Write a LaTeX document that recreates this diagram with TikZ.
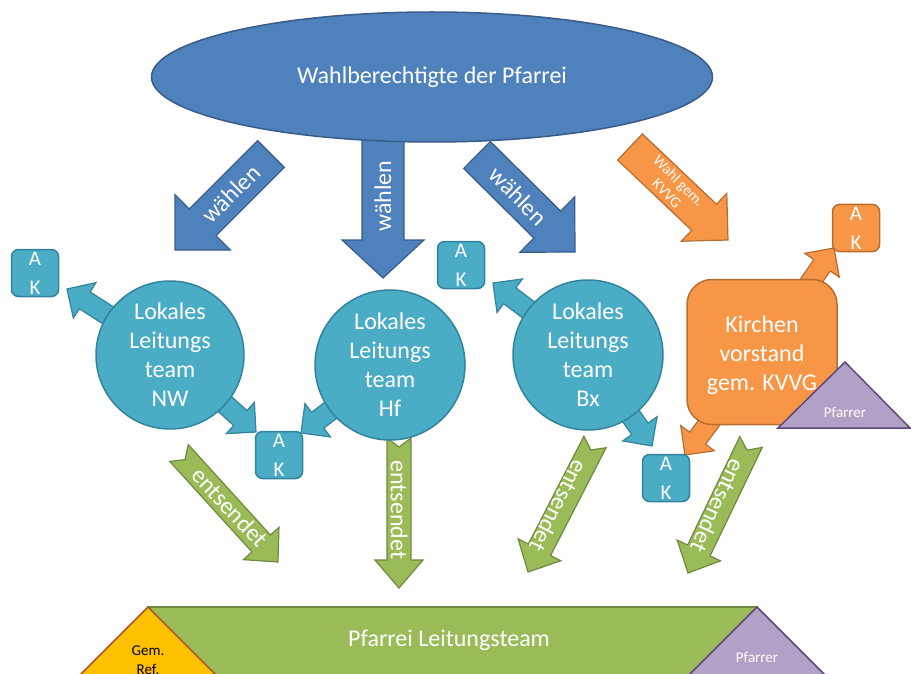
\documentclass[tikz,border=0pt]{standalone}
\usepackage{fontspec}
\setmainfont{Carlito}
\usetikzlibrary{calc,shapes.geometric}

\definecolor{cblue}{HTML}{4F81BD}
\definecolor{cblued}{HTML}{385D8A}
\definecolor{caqua}{HTML}{4BACC6}
\definecolor{caquad}{HTML}{31849B}
\definecolor{corange}{HTML}{F79646}
\definecolor{coranged}{HTML}{B66D31}
\definecolor{cgreen}{HTML}{9BBB59}
\definecolor{cgreend}{HTML}{71893F}
\definecolor{cpurple}{HTML}{B2A1C7}
\definecolor{cpurpled}{HTML}{5F497A}
\definecolor{cgold}{HTML}{FFC000}
\definecolor{cgoldd}{HTML}{A65A2B}

% #1 style, #2 tail, #3 tip, #4 body half width, #5 head half width, #6 head length, #7 notch depth
\newcommand{\blockarr}[7]{%
  \coordinate (hb) at ($(#3)!#6!(#2)$);
  \path[#1] ($(#2)!#4!90:(#3)$) -- ($(hb)!#4!90:(#3)$) -- ($(hb)!#5!90:(#3)$) -- (#3)
    -- ($(hb)!#5!-90:(#3)$) -- ($(hb)!#4!-90:(#3)$) -- ($(#2)!#4!-90:(#3)$)
    -- ($(#2)!#7!(#3)$) -- cycle;
}

\tikzset{
  bluearr/.style={fill=cblue, draw=cblued, line width=1.2pt, line join=miter},
  aquaarr/.style={fill=caqua, draw=caquad, line width=1.2pt, line join=miter},
  orarr/.style={fill=corange, draw=coranged, line width=1.2pt, line join=miter},
  grarr/.style={fill=cgreen, draw=cgreend, line width=1.2pt, line join=miter},
  big/.style={font=\fontsize{24}{29}\selectfont},
  lbl/.style={big, text=white, inner sep=0pt},
  team/.style={circle, fill=caqua, draw=caquad, line width=1.5pt, minimum size=150pt,
    inner sep=0pt, text=white, align=center, big},
  akbox/.style={rectangle, rounded corners=7pt, fill=caqua, draw=caquad, line width=1.5pt,
    minimum width=47pt, minimum height=47pt, inner sep=0pt, text=white, align=center,
    font=\fontsize{21}{29}\selectfont},
  purp/.style={fill=cpurple, draw=cpurpled, line width=1.5pt, line join=miter},
  goldtri/.style={fill=cgold, draw=cgoldd, line width=1.5pt, line join=miter},
  small/.style={font=\fontsize{15}{19}\selectfont, inner sep=0pt, align=center},
}

\begin{document}
\begin{tikzpicture}[x=1pt,y=-1pt]
\useasboundingbox (0,0) rectangle (911,674);
\clip (0,0) rectangle (911,674);

% ---- big arrows from the ellipse
\coordinate (a1t) at (271,154); \coordinate (a1h) at (175,250);
\blockarr{bluearr}{a1t}{a1h}{19pt}{39pt}{39pt}{0pt}
\coordinate (a2t) at (383,120); \coordinate (a2h) at (383,278);
\blockarr{bluearr}{a2t}{a2h}{21pt}{41pt}{38pt}{0pt}
\coordinate (a3t) at (477,155); \coordinate (a3h) at (575,252);
\blockarr{bluearr}{a3t}{a3h}{19pt}{39pt}{39pt}{0pt}
\coordinate (a4t) at (630,147); \coordinate (a4h) at (728,240);
\blockarr{orarr}{a4t}{a4h}{18pt}{33pt}{33pt}{0pt}

\node[ellipse, fill=cblue, draw=cblued, line width=1.5pt, minimum width=561pt,
  minimum height=130pt, inner sep=0pt, text=white, big] (wb) at (432,77)
  {Wahlberechtigte der Pfarrei};

\node[lbl, rotate=45] (t1) at (231,194) {wählen};
\node[lbl, rotate=90] (t2) at (383,196) {wählen};
\node[lbl, rotate=-45] (t3) at (518,196) {wählen};
\node[small, text=white, rotate=-45, font=\fontsize{15}{17}\selectfont] (t4) at (673,187) {Wahl gem.\\KVVG};

% ---- centres
\coordinate (nwc) at (170,355);
\coordinate (hfc) at (390,365);
\coordinate (bxc) at (588,355);
\coordinate (kvc) at (762,352);

% ---- green arrows
\coordinate (g1t) at (179,453); \coordinate (g1h) at (278,562);
\blockarr{grarr}{g1t}{g1h}{12.5pt}{24pt}{25pt}{9pt}
\coordinate (g2t) at (399,438); \coordinate (g2h) at (399,588);
\blockarr{grarr}{g2t}{g2h}{12pt}{24pt}{28pt}{9pt}
\coordinate (g3t) at (595,442); \coordinate (g3h) at (528,572);
\blockarr{grarr}{g3t}{g3h}{12.5pt}{24pt}{25pt}{9pt}
\coordinate (g4t) at (751,442); \coordinate (g4h) at (688,573);
\blockarr{grarr}{g4t}{g4h}{12.5pt}{24pt}{25pt}{9pt}

\node[lbl, rotate=-47] (e1) at (230,507) {entsendet};
\node[lbl, rotate=-90] (e2) at (399,510) {entsendet};
\node[lbl, rotate=-117] (e3) at (559,506) {entsendet};
\node[lbl, rotate=-115] (e4) at (718,506) {entsendet};

% ---- small arrows to the AK boxes
\coordinate (s1h) at (67,289);
\blockarr{aquaarr}{nwc}{s1h}{10pt}{21pt}{21pt}{0pt}
\coordinate (s2h) at (256,432);
\blockarr{aquaarr}{nwc}{s2h}{10pt}{21pt}{21pt}{0pt}
\coordinate (s3h) at (301,433);
\blockarr{aquaarr}{hfc}{s3h}{10pt}{21pt}{21pt}{0pt}
\coordinate (s4h) at (493,283);
\blockarr{aquaarr}{bxc}{s4h}{10pt}{21pt}{21pt}{0pt}
\coordinate (s5h) at (652,446);
\blockarr{aquaarr}{bxc}{s5h}{10pt}{21pt}{21pt}{0pt}
\coordinate (o1h) at (685,455);
\blockarr{orarr}{kvc}{o1h}{10pt}{21pt}{21pt}{0pt}
\coordinate (o2h) at (834,248);
\blockarr{orarr}{kvc}{o2h}{10pt}{21pt}{21pt}{0pt}

% ---- circles
\node[team, minimum size=148pt] (nw) at (nwc) {Lokales\\Leitungs\\team\\NW};
\node[team] (hf) at (hfc) {Lokales\\Leitungs\\team\\Hf};
\node[team] (bx) at (bxc) {Lokales\\Leitungs\\team\\Bx};

% ---- AK boxes
\node[akbox] (ak1) at (35,273) {A\\K};
\node[akbox] (ak2) at (279,455) {A\\K};
\node[akbox] (ak3) at (461,265) {A\\K};
\node[akbox] (ak4) at (666,478) {A\\K};
\node[akbox, fill=corange, draw=coranged] (ak5) at (856,228) {A\\K};

% ---- Kirchenvorstand
\node[rectangle, rounded corners=25pt, fill=corange, draw=coranged, line width=1.5pt,
  minimum width=150pt, minimum height=145pt, inner sep=0pt] (kv) at (kvc) {};
\node[big, text=white, align=center, inner sep=0pt] (kvt) at ($(kv.center)+(0,3)$)
  {Kirchen\\vorstand\\gem. KVVG};
\draw[purp] (845,362) -- (778,428) -- (910,428) -- cycle;
\node[small, text=white] (pf1) at (845,412) {Pfarrer};

% ---- bottom
\draw[fill=cgreen, draw=cgreend, line width=1.5pt] (148,607) -- (757,607) -- (757,700) -- (148,700) -- cycle;
\node[big, text=white, inner sep=0pt] (plt) at (449,640) {Pfarrei Leitungsteam};
\draw[goldtri] (148,607) -- (68,687) -- (228,687) -- cycle;
\node[small, text=black] (gr) at (148,660) {Gem.\\Ref.};
\draw[purp] (757,607) -- (677,687) -- (837,687) -- cycle;
\node[small, text=white] (pf2) at (757,657) {Pfarrer};
\end{tikzpicture}
\end{document}
